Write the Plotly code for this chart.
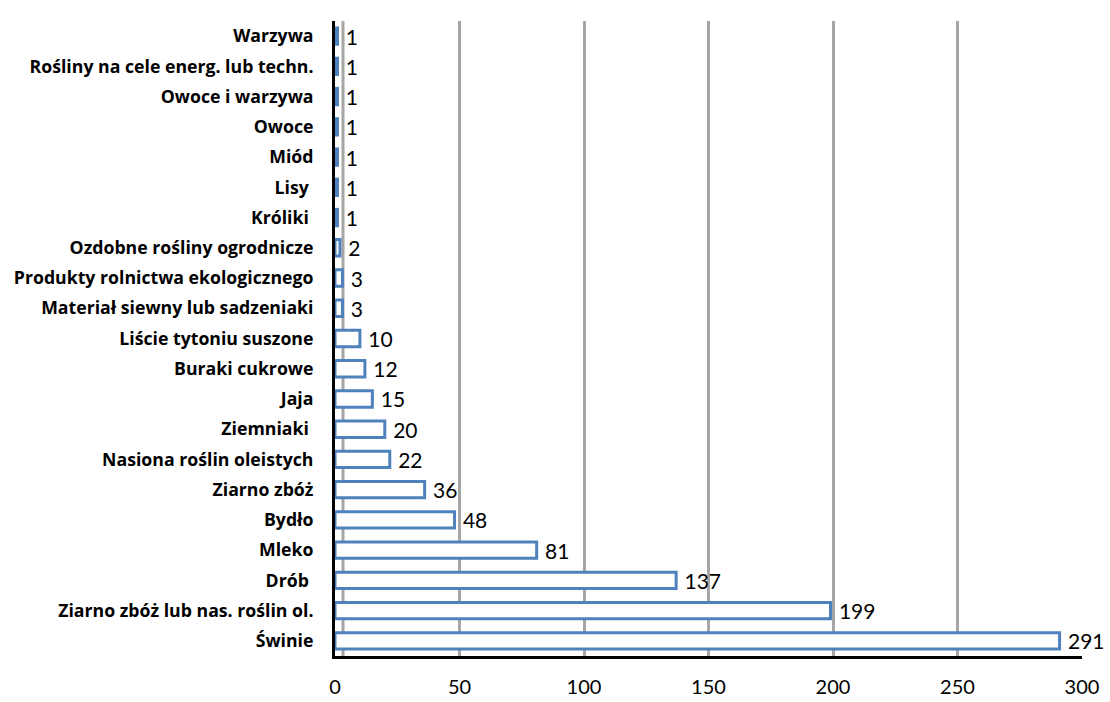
import plotly.graph_objects as go

categories = ["Warzywa", "Rośliny na cele energ. lub techn.", "Owoce i warzywa", "Owoce", "Miód",
              "Lisy ", "Króliki ", "Ozdobne rośliny ogrodnicze", "Produkty rolnictwa ekologicznego",
              "Materiał siewny lub sadzeniaki", "Liście tytoniu suszone", "Buraki cukrowe", "Jaja",
              "Ziemniaki ", "Nasiona roślin oleistych", "Ziarno zbóż", "Bydło", "Mleko", "Drób ",
              "Ziarno zbóż lub nas. roślin ol.", "Świnie"]
values = [1, 1, 1, 1, 1, 1, 1, 2, 3, 3, 10, 12, 15, 20, 22, 36, 48, 81, 137, 199, 291]
x_ticks = [0, 50, 100, 150, 200, 250, 300]

fig = go.Figure(go.Bar(
    y=categories, x=values, orientation="h",
    marker=dict(color="white", line=dict(color="#4F81BD", width=3)),
    width=0.54,
    text=["\u00a0" + str(v) for v in values], textposition="outside",
    textfont=dict(family="Lato", size=21, color="black"),
    constraintext="none",
    cliponaxis=False,
))

# back-wall line at zero (3D look)
fig.add_shape(type="line", xref="x", yref="paper", xsizemode="pixel", xanchor=0,
              x0=8, x1=8, y0=0, y1=1, line=dict(color="#A6A6A6", width=3), layer="below")

fig.update_layout(
    width=1110, height=702,
    margin=dict(l=335, r=28, t=21, b=46),
    plot_bgcolor="white", paper_bgcolor="white",
    showlegend=False,
    xaxis=dict(range=[0, 300], tickvals=x_ticks, showgrid=True, gridcolor="#A6A6A6", gridwidth=3,
               zeroline=False, showline=True, linecolor="black", linewidth=3, automargin=False,
               ticks="outside", ticklen=11, tickcolor="rgba(0,0,0,0)",
               tickfont=dict(family="Lato", size=20, color="black")),
    yaxis=dict(autorange="reversed", showgrid=False, showline=True, linecolor="black", linewidth=3,
               automargin=False,
               ticks="outside", ticklen=15, tickcolor="rgba(0,0,0,0)",
               tickfont=dict(family="Open Sans", size=17.7, color="black", weight="bold")),
)

fig.write_html("out.html", config={"displayModeBar": False},
               post_script="document.body.style.margin='0';document.body.style.overflow='hidden';")
